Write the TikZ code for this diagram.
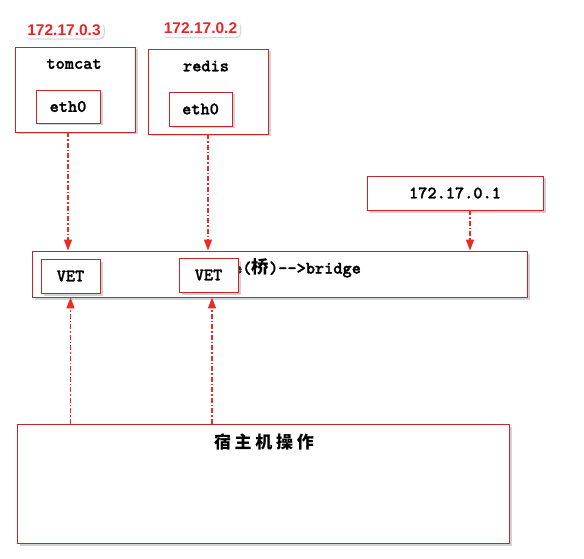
\documentclass[tikz,border=0pt]{standalone}
\usepackage{fontspec}
\setmainfont{Liberation Sans}
\newfontfamily\mono[FakeBold=1.3]{lmmonolt10-bold.otf}
\newfontfamily\cjk{Noto Sans CJK SC}
\newfontfamily\cjkspaced[LetterSpace=22]{Noto Sans CJK SC}
\usetikzlibrary{shadows,arrows.meta}
\definecolor{boxred}{HTML}{C1272D}
\definecolor{arrred}{HTML}{EE2A24}
\definecolor{lblred}{HTML}{E8262A}
\begin{document}
\begin{tikzpicture}[x=1pt,y=-1pt,
  box/.style={draw=boxred,line width=0.9pt,fill=white,inner sep=0pt,
    drop shadow={shadow xshift=2.5pt,shadow yshift=-2.5pt,opacity=0.35,fill=gray}},
  boxtext/.style={font=\mono\fontsize{17.5}{20}\selectfont,inner sep=0pt},
  iplabel/.style={font=\bfseries\fontsize{15.5}{18}\selectfont,text=lblred,fill=white,
    rounded corners=5pt,inner xsep=3pt,inner ysep=3pt,
    drop shadow={shadow xshift=1.2pt,shadow yshift=-1.2pt,opacity=0.3,fill=gray}},
  link/.style={draw=arrred,line width=1.4pt,dash pattern=on 5pt off 2pt on 1.5pt off 2pt,
    -{Triangle[length=11pt,width=8pt,fill=arrred]}}]
\useasboundingbox (0,0) rectangle (584,559);

% containers
\node[box,minimum width=120pt,minimum height=85pt] (tomcatbox) at (75,89.5) {};
\node[boxtext] (tomcat) at (74,64) {tomcat};
\node[box,minimum width=64pt,minimum height=33pt,boxtext] (eth0a) at (68,106.5) {eth0};
\node[iplabel] (ip3) at (64,30) {172.17.0.3};

\node[box,minimum width=120pt,minimum height=85pt] (redisbox) at (208,91.5) {};
\node[boxtext] (redis) at (206,66) {redis};
\node[box,minimum width=63pt,minimum height=34pt,boxtext] (eth0b) at (200.5,109) {eth0};
\node[iplabel] (ip2) at (200.5,28.5) {172.17.0.2};

% gateway
\node[box,minimum width=176pt,minimum height=34pt,boxtext] (gw) at (455,193) {172.17.0.1};

% bridge
\node[box,minimum width=495pt,minimum height=46pt] (bridge) at (279.5,274) {};
\node[boxtext,anchor=west] (bridgetext) at (233,268) {e({\cjk\bfseries 桥})-{}->bridge};
\node[box,minimum width=59pt,minimum height=34pt,boxtext] (vet1) at (70.5,276) {VET};
\node[box,minimum width=59pt,minimum height=34pt,boxtext] (vet2) at (208.5,275) {VET};

% host
\node[box,minimum width=492pt,minimum height=119pt] (host) at (263,483.5) {};
\node[font=\cjkspaced\bfseries\fontsize{17}{19}\selectfont,inner sep=0pt] (hosttext) at (264,442) {宿主机操作};

% connectors
\draw[link] (tomcatbox.south -| eth0a.center) -- (bridge.north -| eth0a.center);
\draw[link] (redisbox.south) -- (redisbox.south |- bridge.north);
\draw[link] ([xshift=15pt]gw.south) -- ([xshift=15pt]gw.south |- bridge.north);
\draw[link] (host.north -| vet1.center) -- (vet1.center |- bridge.south);
\draw[link] ([xshift=3.5pt]host.north -| vet2.center) -- ([xshift=3.5pt]vet2.center |- bridge.south);
\end{tikzpicture}
\end{document}
